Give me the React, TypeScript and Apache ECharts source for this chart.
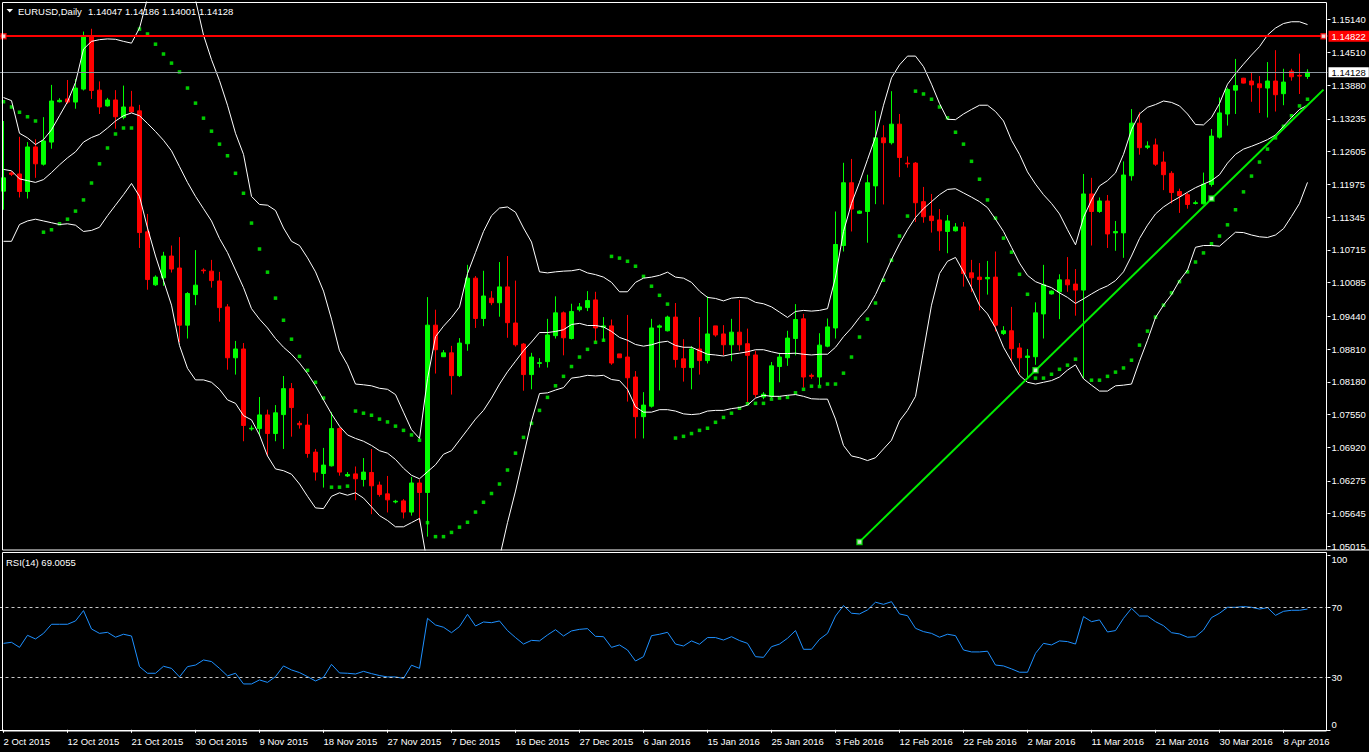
import React, { useEffect, useRef } from 'react';
import * as echarts from 'echarts';

const FONT = 'Liberation Sans';
const BAR_COUNT = 164;
const EXTRA_SLOTS = 2;
const SKIP_DATES = ['2015-12-25', '2016-01-01'];
const MONTHS = ['Jan', 'Feb', 'Mar', 'Apr', 'May', 'Jun', 'Jul', 'Aug', 'Sep', 'Oct', 'Nov', 'Dec'];

const OPEN = [
  1.11844, 1.12194, 1.12174, 1.11837, 1.12693, 1.12362, 1.12787, 1.13562, 1.13616, 1.13556,
  1.13805, 1.14816, 1.13785, 1.13482, 1.13596, 1.13266, 1.13461, 1.13387, 1.11062, 1.10044,
  1.10179, 1.10597, 1.10367, 1.09269, 1.09856, 1.10327, 1.10307, 1.10118, 1.09620, 1.08642,
  1.08811, 1.07274, 1.07281, 1.07544, 1.07186, 1.07550, 1.08049, 1.07382, 1.07348, 1.06829,
  1.06418, 1.06566, 1.07281, 1.06371, 1.06411, 1.06303, 1.06438, 1.06196, 1.06027, 1.05872,
  1.05892, 1.05677, 1.06236, 1.06054, 1.09269, 1.08662, 1.08737, 1.08299, 1.08912, 1.10172,
  1.09397, 1.09788, 1.09700, 1.10004, 1.09310, 1.08905, 1.08319, 1.08534, 1.08568, 1.09067,
  1.09505, 1.09012, 1.09566, 1.09606, 1.09754, 1.09229, 1.09255, 1.08716, 1.08656, 1.08272,
  1.07510, 1.07712, 1.09229, 1.09161, 1.09424, 1.08622, 1.08454, 1.08811, 1.08588, 1.09255,
  1.09100, 1.08892, 1.09134, 1.08912, 1.08696, 1.07888, 1.07901, 1.08474, 1.08642, 1.09012,
  1.09390, 1.08305, 1.08272, 1.08865, 1.09215, 1.10799, 1.12005, 1.11419, 1.11453, 1.11945,
  1.12868, 1.12774, 1.13131, 1.12383, 1.12383, 1.11642, 1.11365, 1.11291, 1.11069, 1.11082,
  1.11156, 1.10274, 1.10192, 1.10159, 1.10192, 1.09107, 1.09161, 1.08831, 1.08649, 1.08662,
  1.09485, 1.09869, 1.09910, 1.10139, 1.10058, 1.09943, 1.11790, 1.11453, 1.11655, 1.11042,
  1.11042, 1.12140, 1.13151, 1.12686, 1.12733, 1.12403, 1.12187, 1.11837, 1.11776, 1.11608,
  1.11601, 1.11972, 1.12882, 1.13327, 1.13785, 1.14014, 1.13960, 1.13906, 1.13825, 1.13960,
  1.13717, 1.14149, 1.14068, 1.14047,
];
const HIGH = [
  1.13192, 1.12228, 1.12888, 1.12787, 1.12841, 1.13266, 1.13886, 1.13630, 1.13980, 1.14000,
  1.14910, 1.14964, 1.13953, 1.13636, 1.13785, 1.13872, 1.13771, 1.13502, 1.11406, 1.10226,
  1.10678, 1.10799, 1.10961, 1.09903, 1.10711, 1.10361, 1.10523, 1.10293, 1.09673, 1.08966,
  1.08925, 1.07341, 1.07888, 1.07645, 1.07733, 1.08292, 1.08157, 1.07429, 1.07564, 1.06890,
  1.06910, 1.07598, 1.07308, 1.06445, 1.06553, 1.06715, 1.06890, 1.06263, 1.06371, 1.05912,
  1.05926, 1.06351, 1.06303, 1.09808, 1.09566, 1.08790, 1.08871, 1.09020, 1.10428, 1.10213,
  1.10314, 1.09923, 1.10482, 1.10597, 1.10125, 1.08925, 1.08737, 1.08635, 1.09390, 1.09822,
  1.09532, 1.09680, 1.09694, 1.09923, 1.09910, 1.09424, 1.09377, 1.08716, 1.09465, 1.08386,
  1.07982, 1.09390, 1.09282, 1.09451, 1.09694, 1.08999, 1.08865, 1.09424, 1.09822, 1.09255,
  1.09269, 1.09390, 1.09754, 1.09202, 1.08777, 1.07982, 1.08561, 1.08737, 1.09161, 1.09673,
  1.09485, 1.08339, 1.09114, 1.09397, 1.11453, 1.12389, 1.12463, 1.11473, 1.12160, 1.13387,
  1.13110, 1.13765, 1.13327, 1.12511, 1.12403, 1.11925, 1.11790, 1.11500, 1.11385, 1.11230,
  1.11251, 1.10523, 1.10462, 1.10503, 1.10684, 1.09249, 1.09620, 1.08925, 1.08811, 1.09707,
  1.10428, 1.09936, 1.10246, 1.10577, 1.10347, 1.12174, 1.12100, 1.11722, 1.11770, 1.11271,
  1.12416, 1.13421, 1.13360, 1.12801, 1.12855, 1.12605, 1.12228, 1.11891, 1.11810, 1.11662,
  1.12201, 1.13037, 1.13643, 1.13832, 1.14385, 1.14021, 1.14135, 1.14055, 1.14324, 1.14553,
  1.14196, 1.14196, 1.14486, 1.14186,
];
const LOW = [
  1.11487, 1.12134, 1.11722, 1.11702, 1.12100, 1.12335, 1.12659, 1.13549, 1.13522, 1.13428,
  1.13778, 1.13616, 1.13327, 1.13468, 1.13043, 1.13225, 1.13353, 1.10752, 1.09950, 1.10024,
  1.10024, 1.10280, 1.08945, 1.09012, 1.09653, 1.10260, 1.09990, 1.09336, 1.08413, 1.08319,
  1.07038, 1.07240, 1.07159, 1.06755, 1.07038, 1.06890, 1.07126, 1.07281, 1.06721, 1.06283,
  1.06148, 1.06553, 1.06377, 1.06351, 1.05906, 1.06169, 1.05636, 1.05973, 1.05670, 1.05845,
  1.05555, 1.05609, 1.05474, 1.05205, 1.08339, 1.08656, 1.07935, 1.08272, 1.08777, 1.09215,
  1.09249, 1.09653, 1.09431, 1.09026, 1.08858, 1.08009, 1.08036, 1.08454, 1.08454, 1.09012,
  1.08689, 1.08993, 1.09532, 1.09539, 1.08945, 1.08966, 1.08507, 1.08642, 1.07800, 1.07092,
  1.07092, 1.07685, 1.08015, 1.09148, 1.08454, 1.08184, 1.08036, 1.08319, 1.08534, 1.09046,
  1.08689, 1.08575, 1.08777, 1.07766, 1.07881, 1.07847, 1.07868, 1.08171, 1.08487, 1.08689,
  1.08069, 1.08238, 1.08116, 1.08844, 1.09012, 1.10684, 1.11069, 1.11406, 1.10853, 1.11594,
  1.11588, 1.12740, 1.12113, 1.12295, 1.11251, 1.11237, 1.11048, 1.10698, 1.10651, 1.11069,
  1.10010, 1.09903, 1.09552, 1.09856, 1.09148, 1.09080, 1.08575, 1.08352, 1.08238, 1.08507,
  1.09012, 1.09856, 1.09384, 1.09910, 1.09451, 1.08238, 1.10799, 1.11426, 1.10752, 1.10698,
  1.10563, 1.12046, 1.12545, 1.12652, 1.12329, 1.11864, 1.11608, 1.11426, 1.11507, 1.11588,
  1.11588, 1.11931, 1.12855, 1.13104, 1.13327, 1.13913, 1.13562, 1.13347, 1.13259, 1.13374,
  1.13495, 1.13967, 1.13711, 1.14001,
];
const CLOSE = [
  1.12100, 1.12167, 1.11837, 1.12693, 1.12369, 1.12808, 1.13576, 1.13589, 1.13556, 1.13825,
  1.14816, 1.13778, 1.13461, 1.13596, 1.13273, 1.13461, 1.13367, 1.11048, 1.10145, 1.10192,
  1.10597, 1.10347, 1.09269, 1.09876, 1.10037, 1.10314, 1.10125, 1.09606, 1.08642, 1.08811,
  1.07341, 1.07288, 1.07544, 1.07186, 1.07584, 1.08049, 1.07685, 1.07355, 1.06802, 1.06445,
  1.06580, 1.07281, 1.06445, 1.06398, 1.06317, 1.06445, 1.06182, 1.06014, 1.05912, 1.05885,
  1.05677, 1.06236, 1.06054, 1.09269, 1.08797, 1.08737, 1.08299, 1.08925, 1.10172, 1.09397,
  1.09829, 1.09700, 1.10004, 1.09316, 1.08892, 1.08319, 1.08656, 1.08548, 1.09080, 1.09505,
  1.09026, 1.09532, 1.09620, 1.09741, 1.09215, 1.09255, 1.08541, 1.08642, 1.08258, 1.07510,
  1.07733, 1.09215, 1.09255, 1.09424, 1.08608, 1.08454, 1.08811, 1.08588, 1.09100, 1.09080,
  1.08892, 1.09134, 1.08892, 1.08689, 1.07935, 1.07942, 1.08487, 1.08656, 1.09020, 1.09377,
  1.08272, 1.08285, 1.08885, 1.09235, 1.10819, 1.12005, 1.11500, 1.11460, 1.12005, 1.12868,
  1.12774, 1.13131, 1.12491, 1.12369, 1.11621, 1.11352, 1.11278, 1.11082, 1.11271, 1.11156,
  1.10260, 1.10179, 1.10145, 1.10186, 1.09269, 1.09161, 1.08817, 1.08642, 1.08676, 1.09505,
  1.10044, 1.09923, 1.10139, 1.10044, 1.09943, 1.11790, 1.11453, 1.11655, 1.11021, 1.11069,
  1.12154, 1.13151, 1.12679, 1.12713, 1.12362, 1.12160, 1.11817, 1.11756, 1.11588, 1.11621,
  1.11979, 1.12902, 1.13347, 1.13798, 1.13872, 1.13920, 1.13886, 1.13832, 1.13960, 1.13697,
  1.13940, 1.14041, 1.14055, 1.14128,
];

const BB_UP = [
  1.13643, 1.13583, 1.12956, 1.12868, 1.12740, 1.12834, 1.13023, 1.13293, 1.13562, 1.13933,
  1.14573, 1.14722, 1.14755, 1.14769, 1.14762, 1.14722, 1.14688, 1.14978, 1.15551, 1.15652,
  1.15719, 1.15753, 1.15753, 1.15652, 1.15517, 1.14843, 1.14371, 1.13967, 1.13495, 1.12956,
  1.12551, 1.11743, 1.11588, 1.11574, 1.11473, 1.11136, 1.10880, 1.10799, 1.10563, 1.10293,
  1.09923, 1.09384, 1.08777, 1.08507, 1.08137, 1.08123, 1.08103, 1.08056, 1.08036, 1.07935,
  1.07597, 1.07260, 1.07092, 1.08238, 1.09047, 1.09249, 1.09417, 1.09619, 1.10260, 1.10664,
  1.11069, 1.11372, 1.11520, 1.11540, 1.11439, 1.11136, 1.10866, 1.10293, 1.10273, 1.10293,
  1.10307, 1.10314, 1.10341, 1.10273, 1.10240, 1.10192, 1.10091, 1.09910, 1.09910, 1.10091,
  1.10172, 1.10192, 1.10226, 1.10287, 1.10192, 1.10172, 1.10091, 1.09923, 1.09802, 1.09782,
  1.09735, 1.09788, 1.09802, 1.09788, 1.09707, 1.09680, 1.09620, 1.09519, 1.09417, 1.09532,
  1.09552, 1.09539, 1.09552, 1.09586, 1.10192, 1.11069, 1.11608, 1.12012, 1.12450, 1.12888,
  1.13495, 1.14021, 1.14270, 1.14439, 1.14439, 1.14236, 1.13899, 1.13529, 1.13225, 1.13218,
  1.13327, 1.13414, 1.13495, 1.13495, 1.13374, 1.13192, 1.12821, 1.12551, 1.12214, 1.11979,
  1.11776, 1.11608, 1.11406, 1.11102, 1.10813, 1.11338, 1.11675, 1.11945, 1.12046, 1.12194,
  1.12551, 1.13023, 1.13327, 1.13455, 1.13508, 1.13576, 1.13549, 1.13482, 1.13327, 1.13124,
  1.13117, 1.13259, 1.13529, 1.13899, 1.14102, 1.14284, 1.14459, 1.14621, 1.14843, 1.14978,
  1.15065, 1.15099, 1.15099, 1.15045,
];
const BB_MID = [
  1.12262, 1.12235, 1.12080, 1.12046, 1.12012, 1.12066, 1.12201, 1.12349, 1.12484, 1.12599,
  1.12787, 1.12875, 1.12935, 1.13057, 1.13192, 1.13293, 1.13347, 1.13293, 1.13145, 1.12990,
  1.12821, 1.12619, 1.12315, 1.12012, 1.11743, 1.11507, 1.11271, 1.10934, 1.10664, 1.10327,
  1.09990, 1.09586, 1.09384, 1.09215, 1.09012, 1.08844, 1.08710, 1.08541, 1.08339, 1.08103,
  1.07833, 1.07564, 1.07328, 1.07159, 1.07092, 1.07038, 1.06957, 1.06856, 1.06809, 1.06688,
  1.06519, 1.06384, 1.06317, 1.06452, 1.06586, 1.06788, 1.06856, 1.07058, 1.07260, 1.07463,
  1.07631, 1.07867, 1.08137, 1.08373, 1.08575, 1.08777, 1.08945, 1.09127, 1.09127, 1.09148,
  1.09181, 1.09282, 1.09303, 1.09262, 1.09262, 1.09235, 1.09148, 1.09033, 1.08979, 1.08898,
  1.08865, 1.08892, 1.08939, 1.08959, 1.08878, 1.08844, 1.08844, 1.08777, 1.08710, 1.08696,
  1.08676, 1.08710, 1.08730, 1.08757, 1.08797, 1.08797, 1.08757, 1.08723, 1.08723, 1.08730,
  1.08710, 1.08696, 1.08710, 1.08710, 1.08844, 1.09047, 1.09215, 1.09417, 1.09586, 1.09856,
  1.10192, 1.10529, 1.10832, 1.11102, 1.11338, 1.11507, 1.11642, 1.11776, 1.11877, 1.11891,
  1.11810, 1.11729, 1.11642, 1.11527, 1.11305, 1.11069, 1.10765, 1.10462, 1.10226, 1.10105,
  1.10044, 1.09990, 1.09889, 1.09802, 1.09687, 1.09775, 1.09869, 1.09957, 1.10024, 1.10125,
  1.10293, 1.10597, 1.10934, 1.11190, 1.11406, 1.11540, 1.11642, 1.11729, 1.11823, 1.11911,
  1.11979, 1.12046, 1.12160, 1.12383, 1.12551, 1.12652, 1.12706, 1.12767, 1.12834, 1.12922,
  1.13090, 1.13259, 1.13414, 1.13495,
];
const BB_LOW = [
  1.10880, 1.10880, 1.11203, 1.11271, 1.11305, 1.11271, 1.11237, 1.11203, 1.11217, 1.11190,
  1.11069, 1.11089, 1.11150, 1.11372, 1.11574, 1.11776, 1.11992, 1.11743, 1.11136, 1.10597,
  1.10125, 1.09653, 1.08878, 1.08440, 1.08217, 1.08217, 1.08171, 1.08036, 1.07833, 1.07766,
  1.07530, 1.07449, 1.07159, 1.06755, 1.06506, 1.06472, 1.06404, 1.06216, 1.05980, 1.05757,
  1.05744, 1.05980, 1.06047, 1.06000, 1.06047, 1.05946, 1.05778, 1.05609, 1.05515, 1.05394,
  1.05394, 1.05474, 1.05555, 1.04666, 1.04329, 1.04261, 1.04261, 1.04329, 1.04295, 1.04295,
  1.04329, 1.04463, 1.04800, 1.05474, 1.06081, 1.06755, 1.07429, 1.07955, 1.07968, 1.08022,
  1.08069, 1.08251, 1.08272, 1.08305, 1.08292, 1.08305, 1.08224, 1.08204, 1.08036, 1.07699,
  1.07597, 1.07597, 1.07645, 1.07645, 1.07618, 1.07564, 1.07550, 1.07564, 1.07618, 1.07631,
  1.07631, 1.07665, 1.07685, 1.07733, 1.07867, 1.07921, 1.07901, 1.07901, 1.07921, 1.07935,
  1.07901, 1.07854, 1.07847, 1.07847, 1.07463, 1.06957, 1.06755, 1.06721, 1.06667, 1.06721,
  1.06890, 1.07058, 1.07429, 1.07631, 1.07901, 1.08777, 1.09653, 1.10260, 1.10496, 1.10570,
  1.10293, 1.09990, 1.09653, 1.09485, 1.09215, 1.08844, 1.08575, 1.08305, 1.08171, 1.08137,
  1.08171, 1.08204, 1.08272, 1.08406, 1.08507, 1.08238, 1.08116, 1.08002, 1.08002, 1.08103,
  1.08116, 1.08137, 1.08575, 1.08979, 1.09417, 1.09653, 1.09856, 1.10125, 1.10327, 1.10765,
  1.10799, 1.10799, 1.10786, 1.10920, 1.11055, 1.11048, 1.11001, 1.10967, 1.10954, 1.11001,
  1.11123, 1.11358, 1.11608, 1.12012,
];
const SAR = [
  1.13562, 1.13461, 1.13360, 1.13273, 1.13192, 1.11055, 1.11102, 1.11217, 1.11305, 1.11460,
  1.11675, 1.12000, 1.12369, 1.12673, 1.12942, 1.13057, 1.13057, 1.14958, 1.14864, 1.14668,
  1.14479, 1.14304, 1.14135, 1.13825, 1.13535, 1.13246, 1.12996, 1.12747, 1.12524, 1.12187,
  1.11803, 1.11230, 1.10732, 1.10287, 1.09788, 1.09363, 1.08999, 1.08669, 1.08400, 1.08171,
  1.07868, 1.06155, 1.06155, 1.06175, 1.07618, 1.07577, 1.07537, 1.07463, 1.07409, 1.07328,
  1.07247, 1.07159, 1.07058, 1.05474, 1.05205, 1.05205, 1.05286, 1.05387, 1.05481, 1.05677,
  1.05865, 1.06034, 1.06216, 1.06485, 1.06809, 1.07112, 1.07382, 1.07631, 1.07881, 1.08103,
  1.08285, 1.08474, 1.08656, 1.08804, 1.08939, 1.08979, 1.10590, 1.10557, 1.10496, 1.10401,
  1.10206, 1.10017, 1.09842, 1.09673, 1.07099, 1.07132, 1.07186, 1.07247, 1.07288, 1.07402,
  1.07496, 1.07577, 1.07672, 1.07759, 1.07766, 1.07766, 1.07847, 1.07868, 1.07881, 1.07969,
  1.08036, 1.08096, 1.08090, 1.08137, 1.08137, 1.08346, 1.08656, 1.09040, 1.09384, 1.09694,
  1.10132, 1.10516, 1.10981, 1.11365, 1.13765, 1.13711, 1.13610, 1.13461, 1.13252, 1.12976,
  1.12747, 1.12417, 1.12073, 1.11675, 1.11325, 1.10941, 1.10671, 1.10246, 1.09862, 1.08251,
  1.08251, 1.08325, 1.08420, 1.08500, 1.08615, 1.10577, 1.08211, 1.08211, 1.08285, 1.08366,
  1.08446, 1.08595, 1.08885, 1.09154, 1.09424, 1.09653, 1.09889, 1.10105, 1.10293, 1.10482,
  1.10657, 1.10833, 1.10981, 1.11197, 1.11487, 1.11830, 1.12133, 1.12403, 1.12652, 1.12868,
  1.13090, 1.13293, 1.13482, 1.13610,
];
const RSI = [
  49.4, 50.0, 47.1, 54.0, 51.9, 55.1, 60.3, 60.3, 60.3, 62.2,
  68.1, 57.6, 55.1, 55.7, 52.9, 54.6, 53.6, 36.1, 32.3, 32.3,
  36.3, 35.1, 30.2, 36.1, 37.0, 39.9, 39.0, 35.1, 30.8, 32.3,
  26.2, 26.2, 28.5, 27.1, 30.4, 36.5, 34.2, 32.7, 30.4, 27.9,
  30.0, 37.4, 32.5, 32.3, 31.9, 33.4, 32.1, 31.0, 30.2, 30.2,
  29.4, 36.9, 35.1, 63.7, 59.9, 58.6, 55.5, 59.0, 66.0, 59.3,
  61.6, 61.2, 62.2, 56.7, 52.7, 49.0, 51.1, 50.8, 54.2, 57.2,
  53.6, 56.5, 57.4, 57.8, 53.4, 53.2, 47.1, 48.5, 45.6, 39.3,
  41.8, 53.8, 54.6, 55.7, 49.0, 47.9, 50.8, 48.9, 52.7, 52.7,
  51.3, 53.2, 51.0, 49.4, 41.8, 41.4, 47.5, 49.0, 52.3, 56.7,
  46.0, 46.0, 51.7, 55.1, 65.0, 71.0, 66.6, 66.2, 68.5, 72.9,
  71.7, 73.2, 66.2, 65.2, 58.0, 56.1, 55.1, 52.9, 54.6, 53.8,
  45.6, 44.5, 44.5, 44.9, 37.0, 36.5, 34.8, 32.9, 32.9, 43.7,
  49.4, 48.5, 50.8, 50.4, 49.0, 64.7, 61.8, 62.8, 55.9, 56.7,
  63.7, 69.4, 65.0, 65.0, 61.8, 59.5, 55.5, 54.8, 52.9, 53.2,
  57.0, 64.1, 66.6, 70.0, 70.0, 70.4, 70.0, 69.0, 69.8, 65.4,
  67.7, 68.3, 68.3, 69.0,
];

const PRICE_TICKS = [
  1.1514, 1.1451, 1.1388, 1.13235, 1.12605, 1.11975, 1.11345, 1.10715, 1.10085,
  1.0944, 1.0881, 1.0818, 1.0755, 1.0692, 1.06275, 1.05645, 1.05015,
];
const RSI_TICKS = [0, 30, 70, 100];
const RSI_LEVELS = [70, 30];
const PRICE_MIN = 1.049482;
const PRICE_MAX = 1.154786;
const RED_LINE = 1.14822;
const GREY_LINE = 1.14128;
const RED_LINE_HANDLES = [0, 165];
const TREND_LINE = [[107, 1.05104], [165, 1.13795]];
const TREND_ANCHORS = [[107, 1.05104], [129, 1.08404], [151, 1.11703]];
const SYMBOL_TITLE = 'EURUSD,Daily';
const QUOTE_TITLE = '1.14047 1.14186 1.14001 1.14128';
const RSI_TITLE = 'RSI(14) 69.0055';

function buildDates(): string[] {
  const out: string[] = [];
  const d = new Date(Date.UTC(2015, 9, 2));
  while (out.length < BAR_COUNT) {
    const wd = d.getUTCDay();
    const iso = d.toISOString().slice(0, 10);
    if (wd !== 6 && SKIP_DATES.indexOf(iso) < 0) {
      out.push(`${d.getUTCDate()} ${MONTHS[d.getUTCMonth()]} ${d.getUTCFullYear()}`);
    }
    d.setUTCDate(d.getUTCDate() + 1);
  }
  for (let k = 0; k < EXTRA_SLOTS; k++) out.push('');
  return out;
}

function buildOption(): any {
  const cats = buildDates();
  const labelInterval = (idx: number) => idx % 8 === 0 && idx < BAR_COUNT;
  const candles = OPEN.map((o, i) => [o, CLOSE[i], LOW[i], HIGH[i]]);
  const textBase = { color: '#ffffff', fontSize: 9.5, fontFamily: FONT };
  const bbLine = (name: string, data: number[]) => ({
    name,
    type: 'line',
    xAxisIndex: 0,
    yAxisIndex: 0,
    data,
    showSymbol: false,
    symbol: 'none',
    lineStyle: { color: '#ffffff', width: 1 },
    z: 4,
    silent: true,
  });

  return {
    animation: false,
    backgroundColor: '#000000',
    grid: [
      { left: -0.5, top: 2, width: 1328, height: 548, containLabel: false, outerBoundsMode: 'none' },
      { left: -0.5, top: 554.8, width: 1328, height: 176.2, containLabel: false, outerBoundsMode: 'none' },
    ],
    xAxis: [
      { type: 'category', gridIndex: 0, data: cats, boundaryGap: true, show: false },
      {
        type: 'category',
        gridIndex: 1,
        data: cats,
        boundaryGap: true,
        axisLine: { show: true, lineStyle: { color: '#ffffff', width: 1 } },
        axisTick: { show: true, interval: labelInterval, alignWithLabel: true, length: 3, lineStyle: { color: '#ffffff' } },
        axisLabel: { ...textBase, interval: labelInterval, align: 'left', margin: 5, hideOverlap: false },
        splitLine: { show: false },
      },
    ],
    yAxis: [
      {
        type: 'value',
        gridIndex: 0,
        position: 'right',
        min: PRICE_MIN,
        max: PRICE_MAX,
        splitLine: { show: false },
        axisLine: { show: false },
        axisTick: { show: true, customValues: PRICE_TICKS, length: 3, lineStyle: { color: '#ffffff' } },
        axisLabel: { ...textBase, customValues: PRICE_TICKS, margin: 4, formatter: (v: number) => v.toFixed(5) },
      },
      {
        type: 'value',
        gridIndex: 1,
        position: 'right',
        min: -0.686,
        max: 100,
        splitLine: { show: false },
        axisLine: { show: false },
        axisTick: { show: true, customValues: RSI_TICKS, length: 3, lineStyle: { color: '#ffffff' } },
        axisLabel: {
          ...textBase,
          customValues: RSI_TICKS,
          margin: 4,
          verticalAlignMaxLabel: 'top',
          verticalAlignMinLabel: 'bottom',
        },
      },
    ],
    graphic: [
      { type: 'rect', silent: true, z: 100, shape: { x: 2.5, y: 2.5, width: 1324, height: 547.5 }, style: { fill: 'none', stroke: '#ffffff', lineWidth: 1 } },
      { type: 'line', silent: true, z: 100, shape: { x1: 1326.5, y1: 550, x2: 1369, y2: 550 }, style: { stroke: '#ffffff', lineWidth: 1 } },
      { type: 'rect', silent: true, z: 100, shape: { x: 2.5, y: 552.5, width: 1324, height: 178.5 }, style: { fill: 'none', stroke: '#ffffff', lineWidth: 1 } },
      { type: 'polygon', silent: true, z: 101, shape: { points: [[6.5, 9], [13, 9], [9.75, 12.5]] }, style: { fill: '#ffffff' } },
      { type: 'text', silent: true, z: 101, x: 18, y: 11, style: { text: SYMBOL_TITLE, fill: '#ffffff', fontSize: 9.5, fontFamily: FONT, verticalAlign: 'middle' } },
      { type: 'text', silent: true, z: 101, x: 88, y: 11, style: { text: QUOTE_TITLE, fill: '#ffffff', fontSize: 9.5, fontFamily: FONT, verticalAlign: 'middle' } },
      { type: 'text', silent: true, z: 101, x: 6, y: 562, style: { text: RSI_TITLE, fill: '#ffffff', fontSize: 9.5, fontFamily: FONT, verticalAlign: 'middle' } },
    ],
    series: [
      {
        name: 'EURUSD',
        type: 'candlestick',
        xAxisIndex: 0,
        yAxisIndex: 0,
        data: candles,
        barWidth: 4,
        silent: true,
        itemStyle: {
          color: '#00ff00',
          color0: '#ff0000',
          borderColor: '#00ff00',
          borderColor0: '#ff0000',
          borderWidth: 1,
        },
        z: 2,
        markLine: {
          silent: true,
          symbol: ['none', 'none'],
          precision: 5,
          animation: false,
          data: [
            {
              yAxis: RED_LINE,
              lineStyle: { color: '#ff0000', width: 2, type: 'solid' },
              label: {
                show: true,
                position: 'end',
                distance: 1,
                formatter: () => RED_LINE.toFixed(5),
                color: '#ffffff',
                backgroundColor: '#ff0000',
                padding: [1, 8, 0, 3],
                lineHeight: 10,
                fontSize: 9.5,
                fontFamily: FONT,
              },
            },
            {
              yAxis: GREY_LINE,
              lineStyle: { color: '#8c969e', width: 1, type: 'solid' },
              label: {
                show: true,
                position: 'end',
                distance: 1,
                formatter: () => GREY_LINE.toFixed(5),
                color: '#000000',
                backgroundColor: '#ffffff',
                padding: [1, 3, 0, 3],
                lineHeight: 9,
                fontSize: 9.5,
                fontFamily: FONT,
              },
            },
          ],
        },
      },
      {
        name: 'SAR',
        type: 'scatter',
        xAxisIndex: 0,
        yAxisIndex: 0,
        data: SAR.map((v, i) => [i, v]),
        symbol: 'rect',
        symbolSize: 3.5,
        itemStyle: { color: '#00ff00' },
        silent: true,
        z: 3,
      },
      bbLine('BB upper', BB_UP),
      bbLine('BB middle', BB_MID),
      bbLine('BB lower', BB_LOW),
      {
        name: 'Trend',
        type: 'line',
        xAxisIndex: 0,
        yAxisIndex: 0,
        data: TREND_LINE,
        showSymbol: false,
        symbol: 'none',
        lineStyle: { color: '#00ee00', width: 2 },
        silent: true,
        z: 5,
      },
      {
        name: 'Trend anchors',
        type: 'scatter',
        xAxisIndex: 0,
        yAxisIndex: 0,
        data: TREND_ANCHORS,
        symbol: 'rect',
        symbolSize: 5,
        itemStyle: { color: '#ffffff', borderColor: '#00ee00', borderWidth: 1.5 },
        silent: true,
        z: 6,
      },
      {
        name: 'Line handles',
        type: 'scatter',
        xAxisIndex: 0,
        yAxisIndex: 0,
        data: RED_LINE_HANDLES.map((i) => [i, RED_LINE]),
        symbol: 'rect',
        symbolSize: 5,
        itemStyle: { color: '#ffffff', borderColor: '#ff0000', borderWidth: 1.5 },
        silent: true,
        z: 6,
      },
      {
        name: 'RSI',
        type: 'line',
        xAxisIndex: 1,
        yAxisIndex: 1,
        data: RSI,
        showSymbol: false,
        symbol: 'none',
        lineStyle: { color: '#1e90ff', width: 1 },
        silent: true,
        z: 3,
        markLine: {
          silent: true,
          symbol: ['none', 'none'],
          label: { show: false },
          lineStyle: { color: '#c8c8c8', width: 1, type: [3, 3] },
          data: RSI_LEVELS.map((v) => ({ yAxis: v })),
        },
      },
    ],
  };
}

export default function App() {
  const ref = useRef<HTMLDivElement>(null);
  useEffect(() => {
    if (!ref.current) return;
    const chart = echarts.init(ref.current, undefined, { renderer: 'svg' });
    chart.setOption(buildOption());
    return () => {
      chart.dispose();
    };
  }, []);
  return (
    <div
      ref={ref}
      style={{ position: 'fixed', left: 0, top: 0, width: 1369, height: 752, background: '#000000' }}
    />
  );
}
